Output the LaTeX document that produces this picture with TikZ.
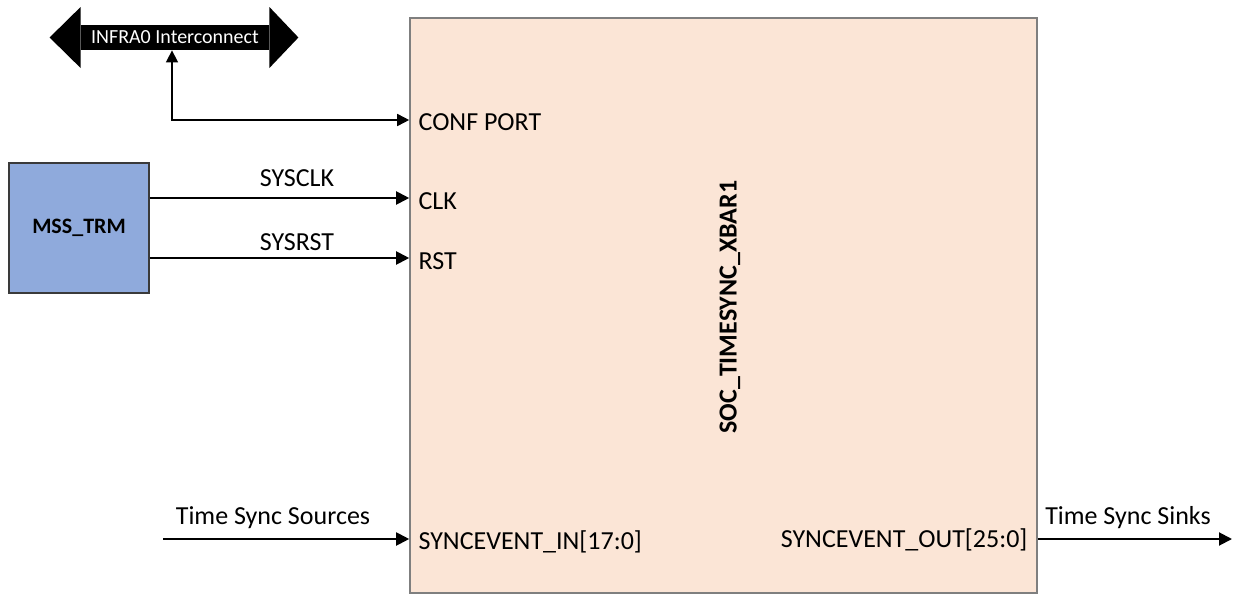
\documentclass[tikz,border=0pt]{standalone}
\usepackage{fontspec}
\setmainfont{Carlito}
\usetikzlibrary{arrows.meta,positioning,calc}

\definecolor{xbarfill}{HTML}{FBE5D6}
\definecolor{xbarline}{HTML}{7F7F7F}
\definecolor{trmfill}{HTML}{8FAADC}
\definecolor{trmline}{HTML}{3A3A3A}

\tikzset{
  sig/.style={line width=1pt,-{Triangle[length=6.5pt,width=6.5pt]}},
  bisig/.style={line width=0.8pt,{Triangle[length=6pt,width=6pt]}-{Triangle[length=6pt,width=6pt]}},
  port/.style={inner sep=0pt,font=\fontsize{13}{15}\selectfont},
  lbl/.style={inner sep=0pt,font=\fontsize{13}{15}\selectfont},
}

\begin{document}
\begin{tikzpicture}[x=0.5pt,y=-0.5pt]
			\useasboundingbox (0,0) rectangle (1233,594);
			% main crossbar block
			\node[draw=xbarline,fill=xbarfill,line width=0.8pt,minimum width=313.5pt,minimum height=287.5pt,inner sep=0pt] (xbar) at (723.5,305.5) {};
			\node[rotate=90,inner sep=0pt,font=\fontsize{13}{15}\selectfont\bfseries] (title) at (730,307) {SOC\_TIMESYNC\_XBAR1};
			% clock / reset source
			\node[draw=trmline,fill=trmfill,line width=0.6pt,minimum width=70pt,minimum height=65pt,inner sep=0pt,font=\fontsize{11}{13}\selectfont\bfseries] (mss) at (79,228) {MSS\_TRM};
			% interconnect (block double arrow)
			\node[fill=black,text=white,minimum width=94pt,minimum height=12.5pt,inner sep=0pt,font=\fontsize{10}{12}\selectfont] (infra) at (175,37.5) {INFRA0 Interconnect};
			\fill (infra.west) ++(0,-30.5) -- ++(-31,30.5) -- ++(31,30.5) -- cycle;
			\fill (infra.east) ++(0,-30.5) -- ++(29,30.5) -- ++(-29,30.5) -- cycle;
			% port ends on the block
			\coordinate (confin) at (xbar.west |- 0,120);
			\coordinate (clkin) at (xbar.west |- 0,198);
			\coordinate (rstin) at (xbar.west |- 0,258);
			\coordinate (srcin) at (xbar.west |- 0,539);
			\coordinate (sinkout) at (xbar.east |- 0,539);
			\coordinate (src) at (163,539);
			\coordinate (sink) at (1232,539);
			\node[port,anchor=west,right=4.5pt of confin,yshift=-1pt] (conf) {CONF PORT};
			\node[port,anchor=west,right=4.5pt of clkin,yshift=-1.5pt] (clk) {CLK};
			\node[port,anchor=west,right=4.5pt of rstin,yshift=-1.5pt] (rst) {RST};
			\node[port,anchor=west,right=4.5pt of srcin,yshift=-1.5pt] (syncin) {SYNCEVENT\_IN[17:0]};
			\node[port,anchor=east,left=5pt of sinkout,yshift=-0.5pt] (syncout) {SYNCEVENT\_OUT[25:0]};
			% connections
			\draw[bisig] (172,0 |- infra.south) |- (confin);
			\draw[sig] (mss.east |- clkin) -- (clkin);
			\draw[sig] (mss.east |- rstin) -- (rstin);
			\draw[sig] (src) -- (srcin);
			\draw[sig] (sinkout) -- (sink);
			\node[lbl] (sysclk) at (297,178) {SYSCLK};
			\node[lbl] (sysrst) at (297,242) {SYSRST};
			\node[lbl] (srclbl) at (273,518) {Time Sync Sources};
			\node[lbl] (sinklbl) at (1128,518) {Time Sync Sinks};
		\end{tikzpicture}
\end{document}
